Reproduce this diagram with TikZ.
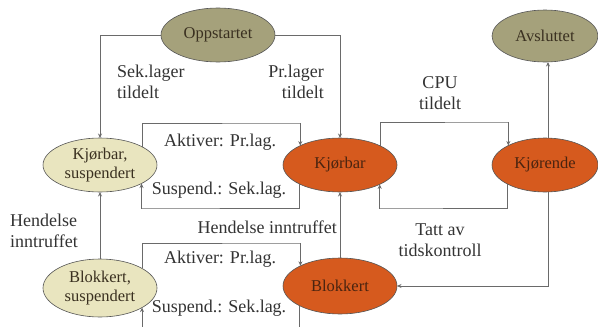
\documentclass[tikz,border=0pt]{standalone}
\usepackage{fontspec}
\setmainfont{Liberation Serif}
\usetikzlibrary{shapes.geometric,arrows.meta}
\definecolor{tanc}{HTML}{A5A17B}
\definecolor{lightc}{HTML}{E9E5BF}
\definecolor{orangec}{HTML}{D65A1E}
\definecolor{linec}{HTML}{6A6A6A}
\definecolor{txtc}{HTML}{333333}
\definecolor{etxt}{HTML}{3A3020}
\definecolor{otxt}{HTML}{4A2410}
\tikzset{
  st/.style={ellipse, draw=linec!80!black, line width=0.6pt, inner sep=0pt, outer sep=0pt,
    align=center, font=\fontsize{16.5}{18.5}\selectfont, text=etxt},
  tanst/.style={st, fill=tanc},
  lightst/.style={st, fill=lightc},
  orst/.style={st, fill=orangec, text=otxt},
  lbl/.style={inner sep=0pt, font=\fontsize{18}{21}\selectfont, text=txtc},
  arr/.style={draw=linec, line width=0.9pt, -{Stealth[length=4.5pt,width=4pt]}},
  ln/.style={draw=linec, line width=0.9pt}
}
\begin{document}
\begin{tikzpicture}[x=1pt,y=-1pt]
\useasboundingbox (0,0) rectangle (598,327);
% states
\node[tanst, minimum width=114pt, minimum height=54pt] (opp) at (218,35) {Oppstartet};
\node[tanst, minimum width=106pt, minimum height=52pt] (avs) at (545,36) {Avsluttet};
\node[lightst, minimum width=114pt, minimum height=54pt] (ksusp) at (100,165) {Kjørbar,\\suspendert};
\node[lightst, minimum width=114pt, minimum height=58pt] (bsusp) at (100,288) {Blokkert,\\suspendert};
\node[orst, minimum width=114pt, minimum height=54pt] (kjb) at (340,165) {Kjørbar};
\node[orst, minimum width=106pt, minimum height=54pt] (kjr) at (545,165) {Kjørende};
\node[orst, minimum width=114pt, minimum height=56pt] (blk) at (340,286) {Blokkert};
% corner coordinates
\coordinate (c1) at (508,122);
\coordinate (c2) at (380,208);
\coordinate (c3) at (300,123);
\coordinate (c4) at (142,208);
\coordinate (c5) at (300,243);
\coordinate (bL) at (142,327);
\coordinate (bR) at (300,327);
% connectors
\draw[arr] (opp.west) -| (ksusp.north);
\draw[arr] (opp.east) -| (kjb.north);
\draw[arr] (kjb.25.6) |- (c1) -| (kjr.152.5);
\draw[arr] (kjr.207.5) |- (c2) -| (kjb.334.4);
\draw[arr] ([xshift=3pt]kjr.north) -- ([xshift=3pt]avs.south);
\draw[arr] ([xshift=3pt]kjr.south) |- (blk.east);
\draw[arr] (blk.north) -- (kjb.south);
\draw[arr] (bsusp.north) -- (ksusp.south);
\draw[arr] (ksusp.23.5) |- (c3) -| (kjb.154.4);
\draw[arr] (kjb.205.6) |- (c4) -| (ksusp.336.5);
\draw[arr] (bsusp.25) |- (c5) -| (blk.153.5);
\draw[ln] (blk.206.5) -- (blk.206.5 |- bR);
\draw[arr] (bsusp.335 |- bL) -- (bsusp.335);
% labels
\node[lbl, anchor=west, align=left] (l1) at (117,82) {Sek.lager\\tildelt};
\node[lbl, anchor=east, align=right] (l2) at (324,82) {Pr.lager\\tildelt};
\node[lbl, align=center] (l3) at (440,93) {CPU\\tildelt};
\node[lbl, align=center] (l4) at (440,240) {Tatt av\\tidskontroll};
\node[lbl, anchor=west, align=left] (l5) at (10,231) {Hendelse\\inntruffet};
\node[lbl, anchor=east] (l6) at (337,227) {Hendelse inntruffet};
\node[lbl] (l7) at (220,142) {Aktiver: Pr.lag.};
\node[lbl] (l8) at (219,190) {Suspend.: Sek.lag.};
\node[lbl] (l9) at (220,259) {Aktiver: Pr.lag.};
\node[lbl] (l10) at (219,308) {Suspend.: Sek.lag.};
\end{tikzpicture}
\end{document}
